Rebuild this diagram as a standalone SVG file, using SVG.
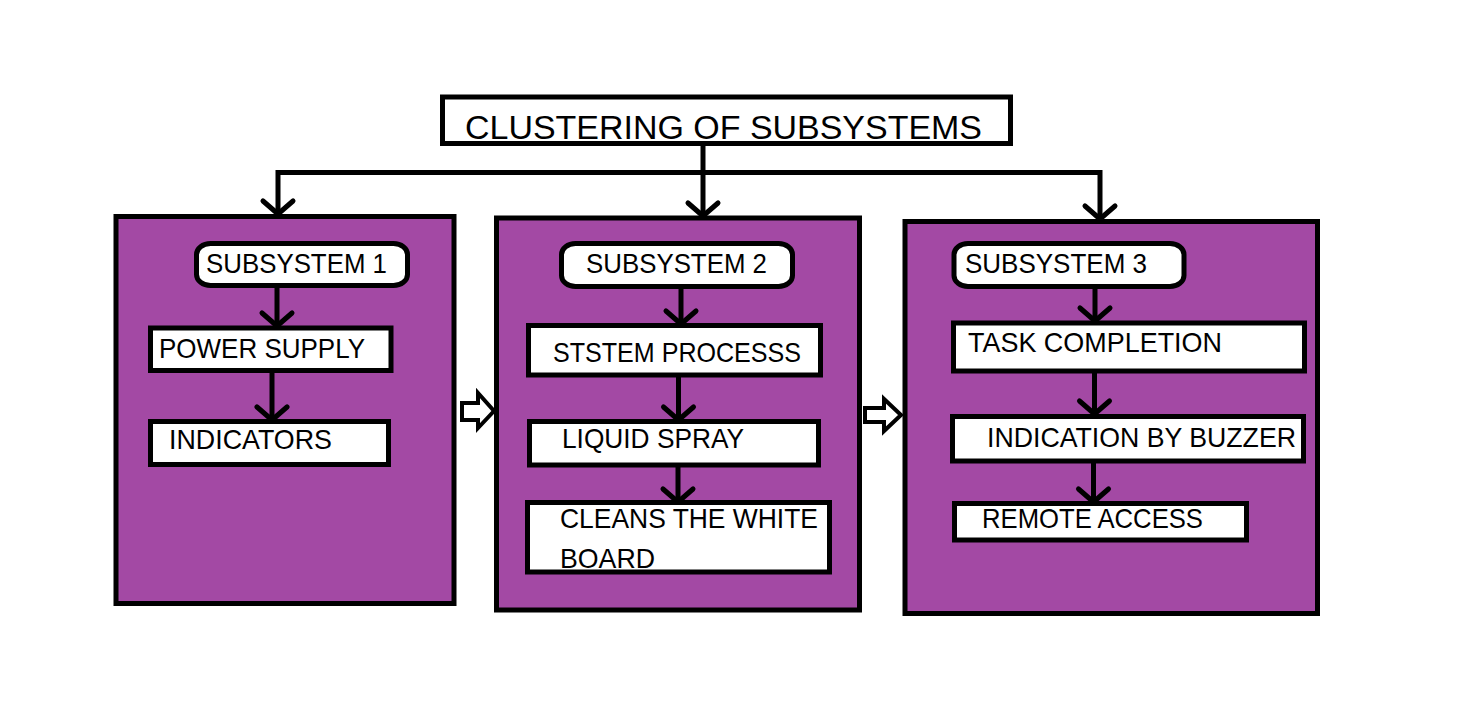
<svg xmlns="http://www.w3.org/2000/svg" width="1475" height="713" viewBox="0 0 1475 713">
<style>
.bg{fill:#ffffff}
.box{fill:#A349A4;stroke:#000;stroke-width:5}
.w{fill:#ffffff;stroke:#000;stroke-width:5}
.t{font-family:"Liberation Sans",Arial,sans-serif;font-size:28px;fill:#000}
.title{font-family:"Liberation Sans",Arial,sans-serif;font-size:33.5px;fill:#000}
.c{fill:none;stroke:#000;stroke-width:5}
.ha{fill:#ffffff;stroke:#000;stroke-width:4;stroke-linejoin:miter}
</style>
<defs>
<marker id="v" markerUnits="userSpaceOnUse" markerWidth="40" markerHeight="40" viewBox="-20 -20 40 40" refX="0" refY="0" orient="auto" overflow="visible">
<path d="M-13,-15 L0,0 L-13,15" fill="none" stroke="#000" stroke-width="5" stroke-linecap="round" stroke-linejoin="round"/>
</marker>
<marker id="vs" markerUnits="userSpaceOnUse" markerWidth="40" markerHeight="40" viewBox="-20 -20 40 40" refX="0" refY="0" orient="auto-start-reverse" overflow="visible">
<path d="M-13,-15 L0,0 L-13,15" fill="none" stroke="#000" stroke-width="5" stroke-linecap="round" stroke-linejoin="round"/>
</marker>
</defs>
<rect class="bg" x="0" y="0" width="1475" height="713"/>

<g id="title">
<rect class="w" x="442.5" y="97" width="568" height="46.5"/>
<text class="title" x="465" y="139" textLength="517" lengthAdjust="spacingAndGlyphs">CLUSTERING OF SUBSYSTEMS</text>
</g>

<g id="cluster1">
<rect class="box" x="116" y="216.5" width="338" height="387"/>
</g>
<g id="cluster2">
<rect class="box" x="496.5" y="218" width="363" height="392"/>
</g>
<g id="cluster3">
<rect class="box" x="905" y="221.5" width="412.5" height="392"/>
</g>

<g id="subsystem1">
<rect class="w" x="196.5" y="243.5" width="211" height="42" rx="14" ry="11"/>
<text class="t" x="206" y="273.3" textLength="181" lengthAdjust="spacingAndGlyphs">SUBSYSTEM 1</text>
</g>
<g id="power-supply">
<rect class="w" x="150.5" y="328" width="240.5" height="42.5"/>
<text class="t" x="159" y="357.7" textLength="206" lengthAdjust="spacingAndGlyphs">POWER SUPPLY</text>
</g>
<g id="indicators">
<rect class="w" x="150.5" y="421.5" width="238" height="43"/>
<text class="t" x="169" y="449.3" textLength="163" lengthAdjust="spacingAndGlyphs">INDICATORS</text>
</g>

<g id="subsystem2">
<rect class="w" x="561.5" y="243.5" width="231" height="43" rx="14" ry="11"/>
<text class="t" x="586" y="273.3" textLength="181" lengthAdjust="spacingAndGlyphs">SUBSYSTEM 2</text>
</g>
<g id="ststem-processs">
<rect class="w" x="528.5" y="325.5" width="292" height="49.5"/>
<text class="t" x="553" y="361.7" textLength="248" lengthAdjust="spacingAndGlyphs">STSTEM PROCESSS</text>
</g>
<g id="liquid-spray">
<rect class="w" x="529.5" y="421.5" width="289" height="43.5"/>
<text class="t" x="562" y="448.3" textLength="182" lengthAdjust="spacingAndGlyphs">LIQUID SPRAY</text>
</g>
<g id="cleans">
<rect class="w" x="527.5" y="502.5" width="302" height="69.5"/>
</g>

<g id="subsystem3">
<rect class="w" x="954" y="243.5" width="230" height="43" rx="14" ry="11"/>
<text class="t" x="965" y="273.3" textLength="182" lengthAdjust="spacingAndGlyphs">SUBSYSTEM 3</text>
</g>
<g id="task-completion">
<rect class="w" x="953.5" y="323" width="351" height="48"/>
<text class="t" x="968" y="351.7" textLength="254" lengthAdjust="spacingAndGlyphs">TASK COMPLETION</text>
</g>
<g id="indication-buzzer">
<rect class="w" x="952.5" y="416.5" width="351" height="44.5"/>
<text class="t" x="987" y="446.7" textLength="309" lengthAdjust="spacingAndGlyphs">INDICATION BY BUZZER</text>
</g>
<g id="remote-access">
<rect class="w" x="954.5" y="503.5" width="292" height="36.5"/>
<text class="t" x="982" y="528.3" textLength="221" lengthAdjust="spacingAndGlyphs">REMOTE ACCESS</text>
</g>

<g id="connectors">
<path class="c" d="M278,214 V172.5 H1100 V219" marker-start="url(#vs)" marker-end="url(#v)"/>
<path class="c" d="M703,145 V216" marker-end="url(#v)"/>
<path class="c" d="M277,288 V326" marker-end="url(#v)"/>
<path class="c" d="M272,372 V420" marker-end="url(#v)"/>
<path class="c" d="M681,289 V324" marker-end="url(#v)"/>
<path class="c" d="M678.5,377 V420" marker-end="url(#v)"/>
<path class="c" d="M678,467 V502" marker-end="url(#v)"/>
<path class="c" d="M1095,289 V321" marker-end="url(#v)"/>
<path class="c" d="M1094.5,373 V414" marker-end="url(#v)"/>
<path class="c" d="M1093.5,463 V502" marker-end="url(#v)"/>
<polygon class="ha" points="462,403 478,403 478,393 494,411 478,428 478,420 462,420"/>
<polygon class="ha" points="865,408 884,408 884,399 901,415 884,431 884,422 865,422"/>
</g>

<g id="cleans-text">
<text class="t" x="560" y="527.7" textLength="258" lengthAdjust="spacingAndGlyphs">CLEANS THE WHITE</text>
<text class="t" x="560" y="567.7" textLength="95" lengthAdjust="spacingAndGlyphs">BOARD</text>
</g>
</svg>
